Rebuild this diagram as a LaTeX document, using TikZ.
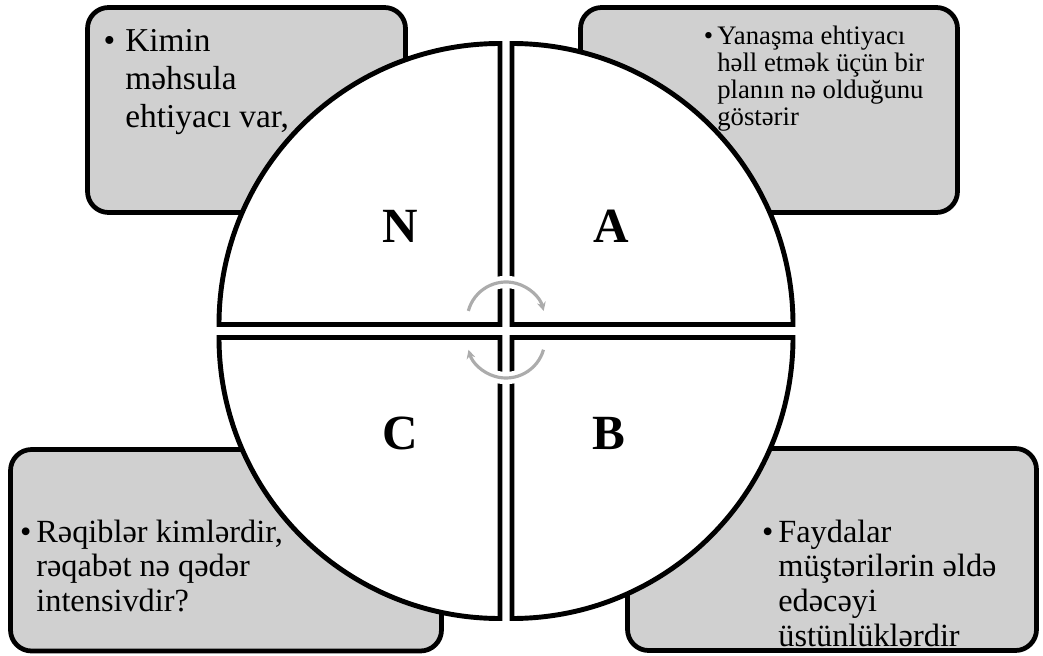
\documentclass[tikz,border=0pt]{standalone}
\usepackage{fontspec}
\setmainfont{Liberation Serif}
\usetikzlibrary{arrows.meta}
\definecolor{boxgray}{RGB}{208,208,208}
\definecolor{cyclegray}{RGB}{172,172,172}
\newcommand{\bul}[1]{\llap{\textbullet\kern#1}}
\newcommand{\stack}[1]{\vtop{\lineskiplimit=-20pt\relax #1}}
\tikzset{
  infobox/.style={draw=black,line width=2.7pt,fill=boxgray,rounded corners=12pt},
  quarter/.style={draw=black,line width=2.8pt,fill=white},
  cycarc/.style={cyclegray,line width=1.8pt,-{Stealth[length=5pt,width=5pt]}},
  halo/.style={white,line width=7pt},
  letter/.style={font=\fontsize{28}{28}\selectfont\bfseries,anchor=base,inner sep=0pt},
  txtbig/.style={font=\fontsize{19}{21.6}\selectfont,anchor=base west,inner sep=0pt},
  txtmid/.style={font=\fontsize{18.4}{19.9}\selectfont,anchor=base west,inner sep=0pt},
  txtsmall/.style={font=\fontsize{15.2}{15.2}\selectfont,anchor=base west,inner sep=0pt}
}

\begin{document}
\begin{tikzpicture}[x=0.02cm,y=-0.02cm]
  \useasboundingbox (0,0) rectangle (1043,655);
  \draw[infobox] (87.5,7.5) rectangle (405.5,212.5);
  \draw[infobox] (580.5,7.5) rectangle (957.5,212.5);
  \draw[infobox] (10.5,449.5) rectangle (441.5,651);
  \draw[infobox] (627.5,448.5) rectangle (1036.5,650.5);
  \coordinate (cN) at (500,324.5);
  \coordinate (cA) at (512,324.5);
  \coordinate (cC) at (500,337.5);
  \coordinate (cB) at (512,337.5);
  \draw[quarter] (cN) -- ++(-281,0) arc[start angle=180,end angle=270,radius=281] -- cycle;
  \draw[quarter] (cA) -- ++(0,-281) arc[start angle=270,end angle=360,radius=281] -- cycle;
  \draw[quarter] (cB) -- ++(281,0) arc[start angle=0,end angle=90,radius=281] -- cycle;
  \draw[quarter] (cC) -- ++(0,281) arc[start angle=90,end angle=180,radius=281] -- cycle;
  \coordinate (up) at (506,321);
  \coordinate (dn) at (506,339);
  \draw[halo] (up) ++(200:39) arc[start angle=200,end angle=340,radius=39];
  \draw[halo] (dn) ++(20:39) arc[start angle=20,end angle=160,radius=39];
  \draw[cycarc] (up) ++(195:39) arc[start angle=195,end angle=345,radius=39];
  \draw[cycarc] (dn) ++(16:39) arc[start angle=16,end angle=164,radius=39];
  \node[letter] (lN) at (400,242) {N};
  \node[letter] (lA) at (611,242) {A};
  \node[letter] (lC) at (400,449) {C};
  \node[letter] (lB) at (609,449) {B};
  \node[txtbig] (tN) at (125,52) {\stack{\hbox{\bul{5.7pt}Kimin}\hbox{məhsula}\hbox{ehtiyacı var,}}};
  \node[txtsmall] (tA) at (717,45) {\stack{\hbox{\bul{2.3pt}Yanaşma ehtiyacı}\hbox{həll etmək üçün bir}\hbox{planın nə olduğunu}\hbox{göstərir}}};
  \node[txtmid] (tC) at (36,542) {\stack{\hbox{\bul{2.8pt}Rəqiblər kimlərdir,}\hbox{rəqabət nə qədər}\hbox{intensivdir?}}};
  \node[txtmid] (tB) at (778,542) {\stack{\hbox{\bul{2.8pt}Faydalar}\hbox{müştərilərin əldə}\hbox{edəcəyi}\hbox{üstünlüklərdir}}};
\end{tikzpicture}
\end{document}
